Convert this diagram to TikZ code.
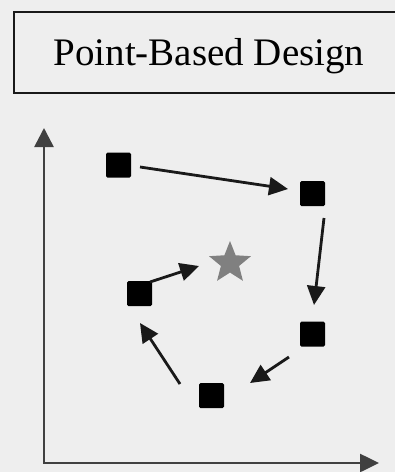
\documentclass[tikz,border=0pt]{standalone}
\usepackage{fontspec}
\setmainfont{Liberation Serif}
\usetikzlibrary{arrows.meta,shapes.geometric}
\definecolor{bg}{HTML}{EEEEEE}
\definecolor{axisgray}{HTML}{404040}
\definecolor{stargray}{HTML}{808080}
\begin{document}
\begin{tikzpicture}[x=1pt,y=-1pt,
  pt/.style={fill=black,minimum size=25pt,inner sep=0pt,rounded corners=1.5pt},
  move/.style={line width=2.8pt,color=black!90,-{Triangle[length=19pt,width=18pt]}},
  axisline/.style={line width=2.6pt,color=axisgray,{Triangle[length=19pt,width=19pt]}-{Triangle[length=19pt,width=18pt]}},
  titlebox/.style={draw,line width=2pt,color=black!90,text=black,fill=bg,minimum width=390pt,minimum height=81pt,inner sep=0pt,text depth=0pt,font=\fontsize{39}{44}\selectfont}]
\fill[bg] (0,0) rectangle (395,472);
\useasboundingbox (0,0) rectangle (395,472);
\node[titlebox,anchor=north west] (title) at (13,10.5) {Point-Based Design};
\coordinate (ytop) at (44,128);
\coordinate (origin) at (44,463);
\coordinate (xend) at (379,463);
\draw[axisline] (ytop) |- (xend);
\node[pt] (s1) at (118.5,165) {};
\node[pt] (s2) at (312.5,193.5) {};
\node[pt] (s3) at (312.5,334) {};
\node[pt] (s4) at (211.5,395.5) {};
\node[pt] (s5) at (139.5,293.5) {};
\node[star,star points=5,star point ratio=2.3,minimum size=44pt,inner sep=0pt,fill=stargray] (goal) at (230,263) {};
\draw[move] ([shift={(21.5,2)}]s1.center) -- ([shift={(-24.5,-4.5)}]s2.center);
\draw[move] ([shift={(11.5,24.5)}]s2.center) -- ([shift={(1.5,-29)}]s3.center);
\draw[move] ([shift={(-23.5,23)}]s3.center) -- ([shift={(38.5,-12.5)}]s4.center);
\draw[move] ([shift={(-31.5,-11.5)}]s4.center) -- ([shift={(0.5,29.5)}]s5.center);
\draw[move] ([shift={(10.5,-11.5)}]s5.center) -- ([shift={(-31,3)}]goal.center);
\end{tikzpicture}
\end{document}
